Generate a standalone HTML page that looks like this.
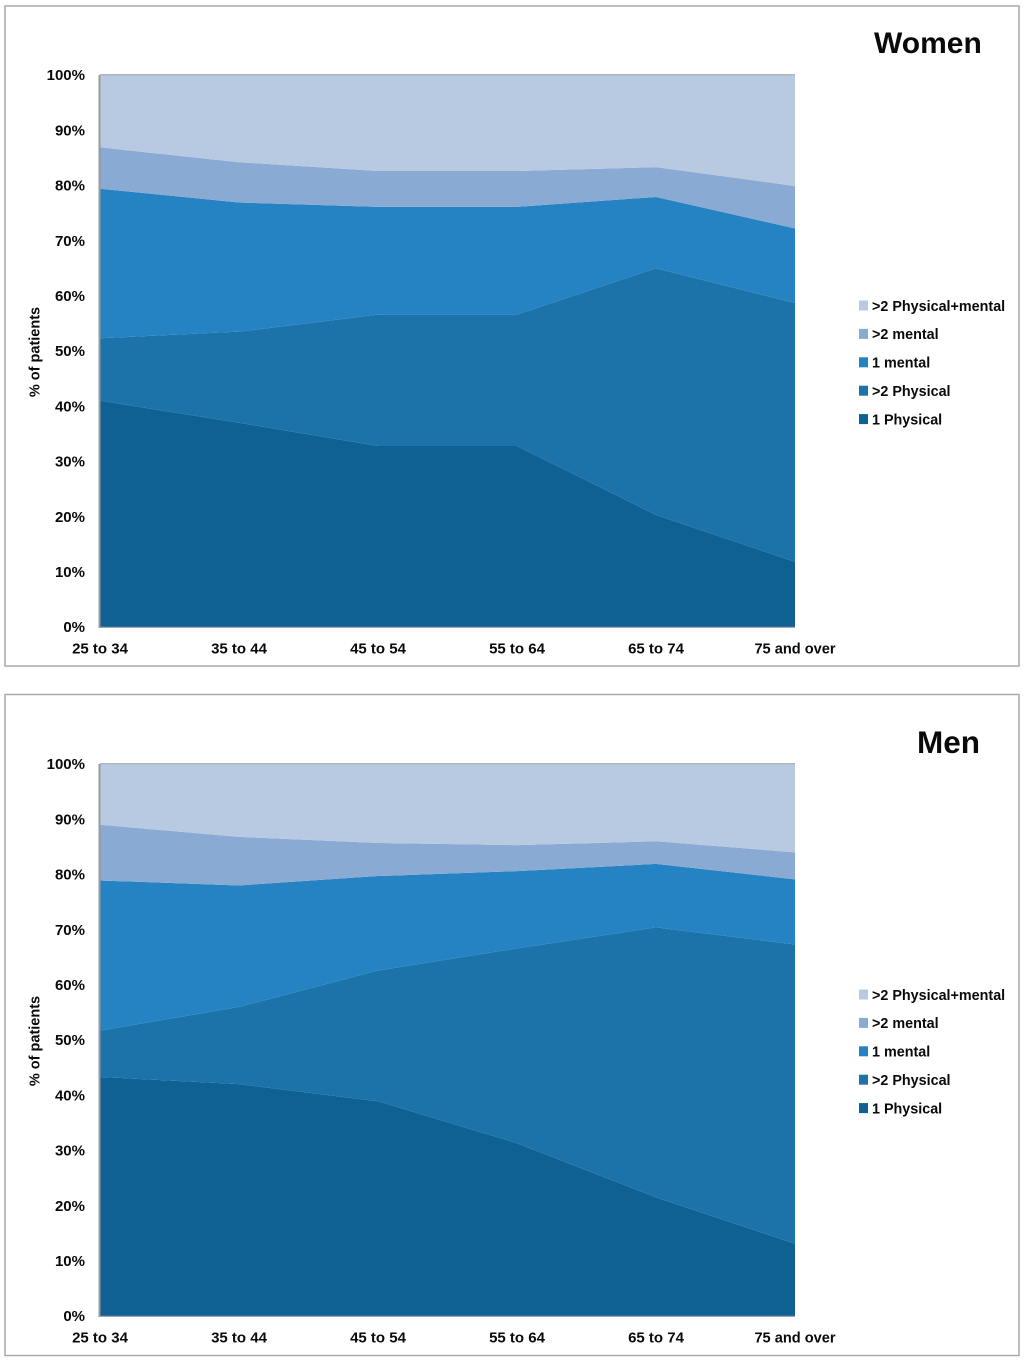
<!DOCTYPE html>
<html lang="en">
<head>
<meta charset="utf-8">
<title>Patients by age group: women and men</title>
<style>
html,body{margin:0;padding:0;background:#fff;width:1024px;height:1361px;overflow:hidden}
svg{display:block}
text{font-family:"Liberation Sans",sans-serif;font-weight:bold;fill:#0a0a0a}
</style>
</head>
<body>
<svg id="figure" xmlns="http://www.w3.org/2000/svg" width="1024" height="1361" viewBox="0 0 1024 1361"></svg>
<script>
const categories = ["25 to 34", "35 to 44", "45 to 54", "55 to 64", "65 to 74", "75 and over"];
const yTickLabels = ["0%", "10%", "20%", "30%", "40%", "50%", "60%", "70%", "80%", "90%", "100%"];
const yTickValues = [0, 10, 20, 30, 40, 50, 60, 70, 80, 90, 100];
const seriesNames = ["1 Physical", ">2 Physical", "1 mental", ">2 mental", ">2 Physical+mental"];
const seriesSlugs = ["1-physical", "2-plus-physical", "1-mental", "2-plus-mental", "2-plus-physical-mental"];
const seriesColors = ["#106193", "#1c73aa", "#2583c3", "#89abd3", "#b8c9e2"];

const women1Physical = [41, 37, 32.8, 32.8, 20.3, 11.8];
const women2Physical = [11.3, 16.5, 23.8, 23.8, 44.7, 46.9];
const women1Mental = [27.1, 23.4, 19.5, 19.5, 12.9, 13.5];
const women2Mental = [7.5, 7.3, 6.5, 6.5, 5.4, 7.7];
const women2PhysicalMental = [13.1, 15.8, 17.4, 17.4, 16.7, 20.1];

const men1Physical = [43.3, 42, 38.9, 31.3, 21.5, 13.1];
const men2Physical = [8.4, 14, 23.7, 35.3, 48.9, 54.2];
const men1Mental = [27.2, 22, 17.1, 14, 11.5, 11.8];
const men2Mental = [10.1, 8.8, 6, 4.7, 4.1, 4.9];
const men2PhysicalMental = [11, 13.2, 14.3, 14.7, 14, 16];

const NS = "http://www.w3.org/2000/svg";
const figure = document.getElementById("figure");

function make(parent, tag, attrs, content) {
  const el = document.createElementNS(NS, tag);
  for (const key in attrs) el.setAttribute(key, attrs[key]);
  if (content !== undefined) el.textContent = content;
  parent.appendChild(el);
  return el;
}

function drawPanel(prefix, title, titleX, titleY, titleSize, frameTop, frameHeight, plotTop, series) {
  const plotLeft = 100, plotRight = 795, plotHeight = 552;
  const plotBottom = plotTop + plotHeight;
  const xScale = i => plotLeft + (plotRight - plotLeft) * i / (categories.length - 1);
  const yScale = v => plotBottom - plotHeight * v / 100;

  const panel = make(figure, "g", {});
  
  

  const frame = make(panel, "rect", {x: 5, y: frameTop, width: 1014, height: frameHeight, fill: "#fff", stroke: "#a9a9a9", "stroke-width": 1.5});
  
  

  const titleEl = make(panel, "text", {x: titleX, y: titleY, "font-size": titleSize}, title);
  
  

  // Stacked areas: each series sits on the running total of those below it.
  let base = categories.map(() => 0);
  series.forEach((values, s) => {
    const top = values.map((v, i) => base[i] + v);
    const upper = top.map((v, i) => xScale(i).toFixed(2) + "," + yScale(v).toFixed(2));
    const lower = base.map((v, i) => xScale(i).toFixed(2) + "," + yScale(v).toFixed(2)).reverse();
    const area = make(panel, "polygon", {points: upper.concat(lower).join(" "), fill: seriesColors[s]});
    
    
    base = top;
  });

  const yAxis = make(panel, "line", {x1: plotLeft - 0.5, x2: plotLeft - 0.5, y1: yScale(100), y2: yScale(0) + 1, stroke: "#9a9a9a", "stroke-width": 2});
  
  

  const xAxis = make(panel, "line", {x1: plotLeft, x2: plotRight, y1: yScale(0) + 0.3, y2: yScale(0) + 0.3, stroke: "#8f9aa3", "stroke-width": 1.2});
  
  

  const topEdge = make(panel, "line", {x1: plotLeft, x2: plotRight, y1: yScale(100) - 0.3, y2: yScale(100) - 0.3, stroke: "#a5a8ad", "stroke-width": 1.2});
  
  

  yTickValues.forEach((v, i) => {
    const tick = make(panel, "text", {x: 85, y: yScale(v) + 5.2, "text-anchor": "end", "font-size": 15}, yTickLabels[i]);
    
    
  });

  categories.forEach((c, i) => {
    const tick = make(panel, "text", {x: xScale(i), y: plotBottom + 26.5, "text-anchor": "middle", "font-size": i === categories.length - 1 ? 14.6 : 15}, c);
    
    
  });

  const midY = plotTop + 277;
  const yTitle = make(panel, "text", {x: 0, y: 0, "text-anchor": "middle", "font-size": 14.5, transform: "translate(39.5 " + midY + ") rotate(-90)"}, "% of patients");
  
  

  const legend = make(panel, "g", {});
  
  
  seriesNames.forEach((name, s) => {
    const row = seriesNames.length - 1 - s;
    const rowY = plotTop + 230.5 + row * 28.4;
    const entry = make(legend, "g", {});
    
    
    const swatch = make(entry, "rect", {x: 859, y: rowY - 5, width: 9, height: 10, fill: seriesColors[s]});
    
    
    const label = make(entry, "text", {x: 872, y: rowY + 5.3, "font-size": 14.35}, name);
    
    
  });
}

drawPanel("women", "Women", 874, 53, 30, 6, 660, 75,
  [women1Physical, women2Physical, women1Mental, women2Mental, women2PhysicalMental]);
drawPanel("men", "Men", 917, 753, 31.5, 694.5, 661, 764,
  [men1Physical, men2Physical, men1Mental, men2Mental, men2PhysicalMental]);
</script>
</body>
</html>
